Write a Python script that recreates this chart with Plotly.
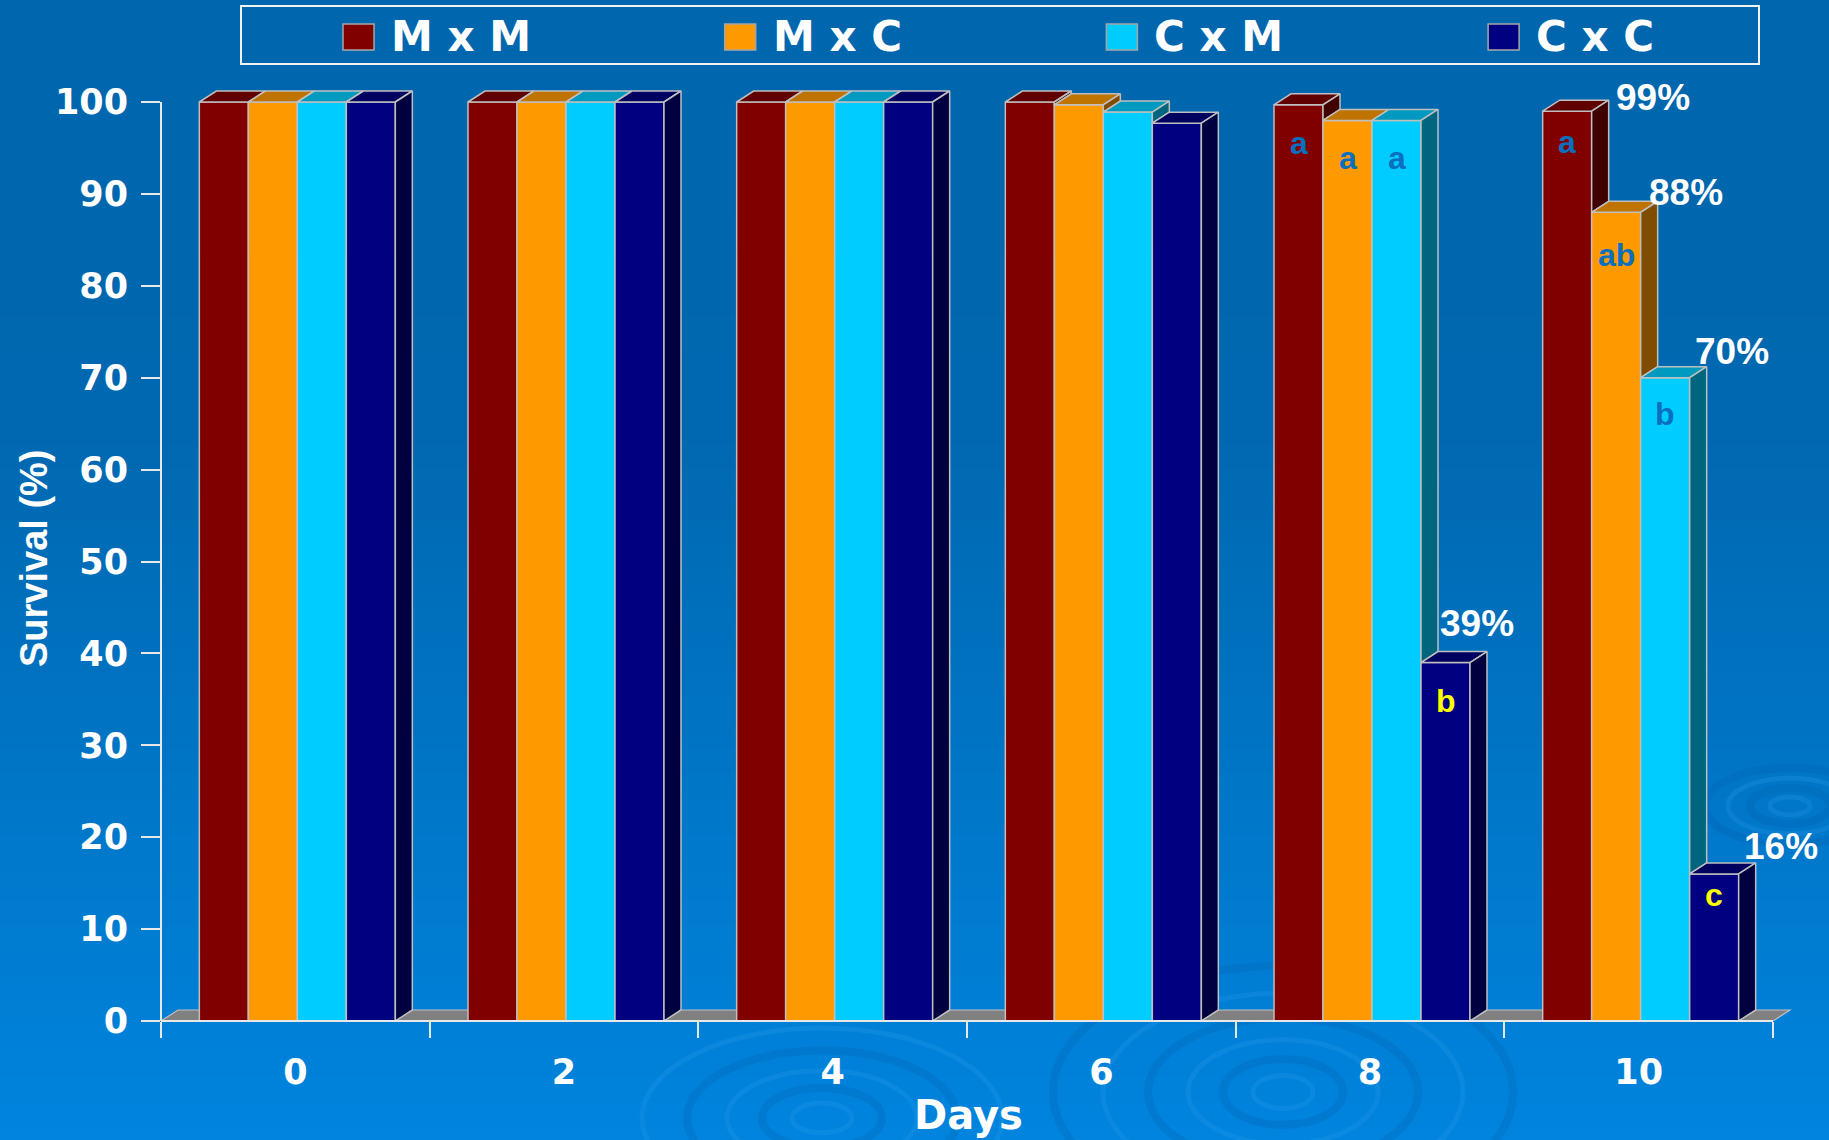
import plotly.graph_objects as go

# ---------------- data ----------------
days = ["0", "2", "4", "6", "8", "10"]
series_names = ["M x M", "M x C", "C x M", "C x C"]

survival_mxm = [100, 100, 100, 100.0, 99.7, 99]
survival_mxc = [100, 100, 100, 99.7, 98.0, 88]
survival_cxm = [100, 100, 100, 98.9, 98.0, 70]
survival_cxc = [100, 100, 100, 97.7, 39.0, 16]

y_tick_values = [0, 10, 20, 30, 40, 50, 60, 70, 80, 90, 100]

# significance letters (empty where none is printed)
letters_mxm = ["", "", "", "", "a", "a"]
letters_mxc = ["", "", "", "", "a", "ab"]
letters_cxm = ["", "", "", "", "a", "b"]
letters_cxc = ["", "", "", "", "b", "c"]

# which bars carry a percentage call-out
pct_mxm = [False, False, False, False, False, True]
pct_mxc = [False, False, False, False, False, True]
pct_cxm = [False, False, False, False, False, True]
pct_cxc = [False, False, False, False, True, True]

survival = [survival_mxm, survival_mxc, survival_cxm, survival_cxc]
letters = [letters_mxm, letters_mxc, letters_cxm, letters_cxc]
pct_flags = [pct_mxm, pct_mxc, pct_cxm, pct_cxc]

# ---------------- styling ----------------
FRONT = ["#800000", "#FF9900", "#00CCFF", "#000080"]
TOP = ["#600000", "#BF7300", "#0099BF", "#000060"]
SIDE = ["#400000", "#804C00", "#006680", "#000040"]
EDGE = "#BFBFBF"
AXIS_COL = "#E8E8E8"
LETTER_COL = ["#0A6FBF", "#0A6FBF", "#0A6FBF", "#FFFF00"]

W, H = 1829, 1140
X_LEFT_PX, X_RIGHT_PX = 161, 1773          # x = -0.5 .. 5.5
CAT_PX = (X_RIGHT_PX - X_LEFT_PX) / 6.0
Y0_PX, Y100_PX = 1021, 102
UNIT_PX = (Y0_PX - Y100_PX) / 100.0

X_RANGE = [-0.5, 5.6]
Y_RANGE = [0, 110]
x_dom = [X_LEFT_PX / W, (X_LEFT_PX + (X_RANGE[1] + 0.5) * CAT_PX) / W]
y_dom = [1 - Y0_PX / H, 1 - (Y0_PX - Y_RANGE[1] * UNIT_PX) / H]

DEPTH_X = 17 / CAT_PX      # 3-D depth, in data units
DEPTH_Y = 11 / UNIT_PX
BAR_W = 49 / CAT_PX
SHIFT = 2 / CAT_PX

# pixel nudges for the free-floating text boxes
LETTER_DROP = {(0, 5): -31, (1, 5): -43, (2, 5): -36, (3, 5): -21}
PCT_NUDGE = {(0, 5): (22, -14), (1, 5): (6, -20), (2, 5): (3, -26),
             (3, 4): (-32, -39), (3, 5): (3, -27)}

DEJAVU = "DejaVu Sans"
ARIAL = "Liberation Sans, Arial"


def px_x(px):
    return px / W


def px_y(py):
    return 1 - py / H


def bar_left(s, g):
    return g + SHIFT + (s - 2) * BAR_W


fig = go.Figure()

# front faces
for s, name in enumerate(series_names):
    fig.add_trace(go.Bar(
        x=list(range(len(days))), y=survival[s], name=name,
        width=BAR_W, offset=SHIFT + (s - 2) * BAR_W,
        marker=dict(color=FRONT[s], line=dict(color=EDGE, width=1.5)),
        showlegend=False, hoverinfo="skip",
    ))

# top and side faces
for s in range(4):
    tx, ty, sx, sy = [], [], [], []
    for g in range(len(days)):
        v = survival[s][g]
        xl = bar_left(s, g)
        xr = xl + BAR_W
        tx += [xl, xr, xr + DEPTH_X, xl + DEPTH_X, xl, None]
        ty += [v, v, v + DEPTH_Y, v + DEPTH_Y, v, None]
        vn = survival[s + 1][g] if s < 3 else 0
        if vn < v:
            sx += [xr, xr, xr + DEPTH_X, xr + DEPTH_X, xr, None]
            sy += [vn, v, v + DEPTH_Y, vn + DEPTH_Y, vn, None]
    fig.add_trace(go.Scatter(x=tx, y=ty, fill="toself", fillcolor=TOP[s], mode="lines",
                             line=dict(color=EDGE, width=1.5), showlegend=False, hoverinfo="skip"))
    if sx:
        fig.add_trace(go.Scatter(x=sx, y=sy, fill="toself", fillcolor=SIDE[s], mode="lines",
                                 line=dict(color=EDGE, width=1.5), showlegend=False, hoverinfo="skip"))

shapes = []


# background gradient
def bg_color(py):
    stops = [(0, (0, 102, 173)), (430, (0, 104, 176)), (H, (0, 132, 222))]
    for (p0, c0), (p1, c1) in zip(stops[:-1], stops[1:]):
        if py <= p1:
            t = (py - p0) / (p1 - p0)
            return "rgb(%d,%d,%d)" % tuple(round(a + (b - a) * t) for a, b in zip(c0, c1))
    return "rgb(%d,%d,%d)" % stops[-1][1]


N_BANDS = 90
for i in range(N_BANDS):
    p0 = H * i / N_BANDS
    p1 = H * (i + 1) / N_BANDS
    shapes.append(dict(type="rect", xref="paper", yref="paper", x0=0, x1=1,
                       y0=px_y(p1 + 0.6), y1=px_y(p0), fillcolor=bg_color((p0 + p1) / 2),
                       line=dict(width=0), layer="below"))

# water ripples in the background (flattened ellipses)
ripples = [
    (822, 1118, [30, 60, 95, 135, 180], 0.5),
    (1283, 1092, [30, 60, 95, 135, 180, 230], 0.55),
    (1790, 806, [20, 40, 62, 85], 0.45),
]
for cx, cy, radii, squash in ripples:
    for k, r in enumerate(radii):
        shapes.append(dict(type="circle", xref="paper", yref="paper",
                           x0=px_x(cx - r), x1=px_x(cx + r),
                           y0=px_y(cy + r * squash), y1=px_y(cy - r * squash),
                           line=dict(color="rgba(0,90,170,0.22)" if k % 2 else "rgba(50,160,240,0.22)",
                                     width=8 if k % 2 else 5),
                           layer="below"))

# floor
shapes.append(dict(type="path", xref="x", yref="y", layer="below",
                   path="M -0.5,0 L 5.5,0 L %f,%f L %f,%f Z" % (5.5 + DEPTH_X, DEPTH_Y, -0.5 + DEPTH_X, DEPTH_Y),
                   fillcolor="#808080", line=dict(color=EDGE, width=1.2)))

# axis lines
shapes.append(dict(type="line", xref="paper", yref="paper",
                   x0=px_x(X_LEFT_PX), x1=px_x(X_LEFT_PX),
                   y0=px_y(Y0_PX), y1=px_y(Y100_PX), line=dict(color=AXIS_COL, width=2)))
shapes.append(dict(type="line", xref="paper", yref="paper",
                   x0=px_x(X_LEFT_PX), x1=px_x(X_RIGHT_PX),
                   y0=px_y(Y0_PX), y1=px_y(Y0_PX), line=dict(color=AXIS_COL, width=2)))

# legend frame and swatches
LEG_BOX = (241, 6, 1759, 64)
shapes.append(dict(type="rect", xref="paper", yref="paper",
                   x0=px_x(LEG_BOX[0]), x1=px_x(LEG_BOX[2]),
                   y0=px_y(LEG_BOX[3]), y1=px_y(LEG_BOX[1]),
                   line=dict(color="#F2F2F2", width=2), fillcolor="rgba(0,0,0,0)"))
annotations = []
for s, name in enumerate(series_names):
    mx = 343 + s * 381.7
    shapes.append(dict(type="rect", xref="paper", yref="paper",
                       x0=px_x(mx), x1=px_x(mx + 31), y0=px_y(50), y1=px_y(24),
                       fillcolor=FRONT[s], line=dict(color="#A6A6A6", width=1.5)))
    annotations.append(dict(text=name, xref="paper", yref="paper", x=px_x(mx + 46), y=px_y(37),
                            xanchor="left", yanchor="middle", showarrow=False,
                            font=dict(family=DEJAVU, size=42, color="white", weight="bold")))

# significance letters and percentage call-outs
for s in range(4):
    for g in range(len(days)):
        v = survival[s][g]
        xl = bar_left(s, g)
        if letters[s][g]:
            annotations.append(dict(text=letters[s][g], x=xl + BAR_W / 2, y=v, xref="x", yref="y",
                                    yshift=LETTER_DROP.get((s, g), -38), showarrow=False,
                                    xanchor="center", yanchor="middle",
                                    font=dict(family=ARIAL, size=32, color=LETTER_COL[s], weight="bold")))
        if pct_flags[s][g]:
            nx, ny = PCT_NUDGE.get((s, g), (6, -24))
            annotations.append(dict(text="%g%%" % v, x=xl + BAR_W, y=v, xref="x", yref="y",
                                    xshift=nx, yshift=-ny, showarrow=False,
                                    xanchor="left", yanchor="middle",
                                    font=dict(family=ARIAL, size=37, color="white", weight="bold")))

# axis titles
annotations.append(dict(text="Days", xref="paper", yref="paper", x=px_x(968), y=px_y(1115),
                        xanchor="center", yanchor="middle", showarrow=False,
                        font=dict(family=DEJAVU, size=40, color="white", weight="bold")))
annotations.append(dict(text="Survival (%)", xref="paper", yref="paper", x=px_x(34), y=px_y(558),
                        xanchor="center", yanchor="middle", showarrow=False, textangle=-90,
                        font=dict(family=ARIAL, size=38, color="white", weight="bold")))

fig.update_layout(
    width=W, height=H, autosize=False,
    margin=dict(l=0, r=0, t=0, b=0, pad=0, autoexpand=False),
    paper_bgcolor="#0066AD", plot_bgcolor="rgba(0,0,0,0)",
    barmode="overlay", showlegend=False,
    shapes=shapes, annotations=annotations,
    xaxis=dict(domain=x_dom, range=X_RANGE, tickmode="array", automargin=False,
               tickvals=list(range(len(days))), ticktext=days, ticks="",
               showgrid=False, zeroline=False, showline=False,
               tickfont=dict(family=DEJAVU, size=35, color="white", weight="bold"),
               ticklabelstandoff=27,
               minor=dict(tickmode="array", tickvals=[g - 0.5 for g in range(len(days) + 1)],
                          ticks="outside", ticklen=16, tickwidth=2, tickcolor=AXIS_COL, showgrid=False)),
    yaxis=dict(domain=y_dom, range=Y_RANGE, tickmode="array", tickvals=y_tick_values, automargin=False,
               ticks="outside", ticklen=19, tickwidth=2, tickcolor=AXIS_COL,
               showgrid=False, zeroline=False, showline=False,
               tickfont=dict(family=DEJAVU, size=35, color="white", weight="bold"),
               ticklabelstandoff=6),
)

fig.write_html("out.html")
